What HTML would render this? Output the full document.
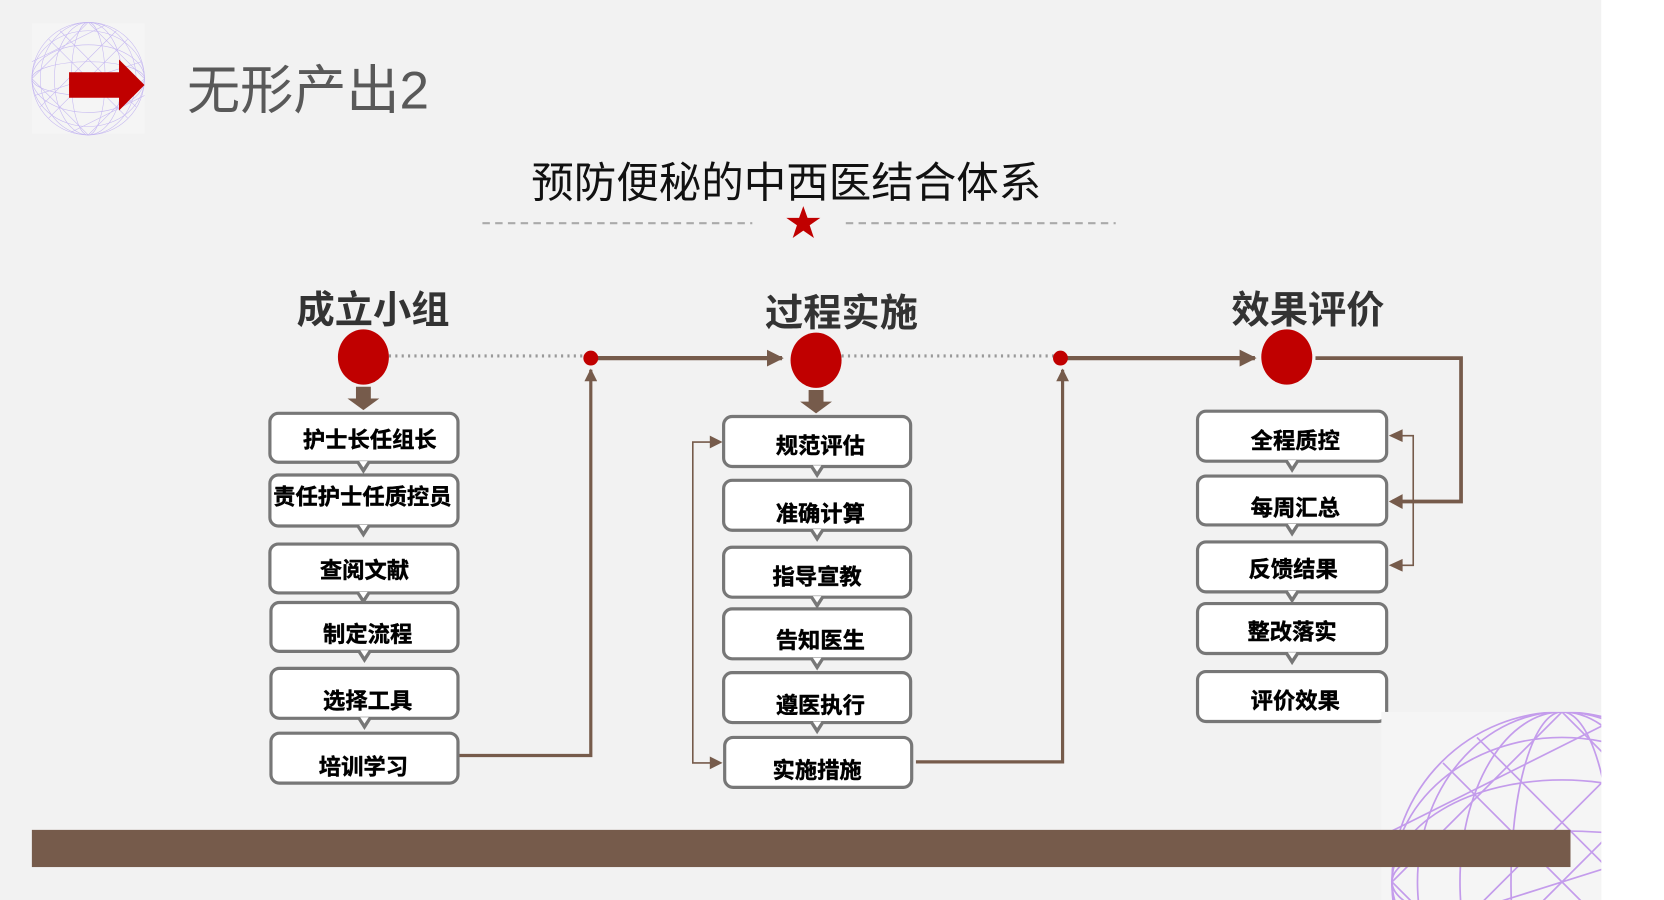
<!DOCTYPE html>
<html><head><meta charset="utf-8"><style>
html,body{margin:0;padding:0;background:#fff;overflow:hidden;width:1664px;height:900px;}
svg{display:block;}
text{font-family:"Liberation Sans","Noto Sans CJK SC","WenQuanYi Zen Hei",sans-serif;}
</style></head><body>
<svg width="1664" height="900" viewBox="0 0 1566 847" preserveAspectRatio="none" xmlns="http://www.w3.org/2000/svg">
<defs>
<marker id="ah" viewBox="0 0 10 10" refX="9" refY="5" markerWidth="4" markerHeight="4" orient="auto"><path d="M0,0L10,5L0,10z" fill="#765b4b"/></marker>
<g id="sph" fill="none" stroke-width="1">
<circle cx="0" cy="0" r="100"/>
<ellipse cx="0" cy="0" rx="30" ry="100"/><ellipse cx="0" cy="0" rx="60" ry="100"/><ellipse cx="0" cy="0" rx="85" ry="100"/>
<ellipse cx="0" cy="0" rx="100" ry="30"/><ellipse cx="0" cy="0" rx="100" ry="60"/><ellipse cx="0" cy="0" rx="100" ry="85"/>
<path d="M-100,0L0,-100L100,0L0,100Z M-70,-70L70,70 M70,-70L-70,70 M-100,-30L30,-95 M-95,30L95,-30 M-30,95L100,30 M-50,-85L85,50 M-85,50L50,-85"/>
</g>
</defs>
<rect x="0" y="0" width="1507" height="847" fill="#f2f2f2"/>
<rect x="1507" y="0" width="59" height="847" fill="#fff"/>
<rect x="30" y="22" width="106" height="104" fill="#f5f5f5"/>
<use href="#sph" transform="translate(83,74) scale(0.53)" stroke="#b9a8f0" opacity="0.8"/>
<polygon points="65,68 112,68 112,56 136,80 112,104 112,92 65,92" fill="#c00000"/>
<text x="176" y="102" font-size="50" fill="#595959">无形产出2</text>
<text x="740" y="186" font-size="40" fill="#111" text-anchor="middle">预防便秘的中西医结合体系</text>
<line x1="454" y1="210" x2="708" y2="210" stroke="#aaa" stroke-width="2" stroke-dasharray="7,5"/>
<line x1="796" y1="210" x2="1050" y2="210" stroke="#aaa" stroke-width="2" stroke-dasharray="7,5"/>
<polygon points="756,194 760,205 772,205 762,212 766,224 756,217 746,224 750,212 740,205 752,205" fill="#c00000"/>
<g font-size="36" font-weight="bold" fill="#333" text-anchor="middle">
<text x="351" y="304">成立小组</text><text x="792" y="307">过程实施</text><text x="1231" y="304">效果评价</text>
</g>
<line x1="366" y1="335" x2="550" y2="335" stroke="#999" stroke-width="3" stroke-dasharray="2,4"/>
<line x1="792" y1="335" x2="992" y2="335" stroke="#999" stroke-width="3" stroke-dasharray="2,4"/>
<line x1="562" y1="337" x2="736" y2="337" stroke="#765b4b" stroke-width="4" marker-end="url(#ah)"/>
<line x1="1004" y1="337" x2="1181" y2="337" stroke="#765b4b" stroke-width="4" marker-end="url(#ah)"/>
<ellipse cx="342" cy="336" rx="24" ry="26" fill="#c00000"/>
<ellipse cx="768" cy="339" rx="24" ry="26" fill="#c00000"/>
<ellipse cx="1211" cy="336" rx="24" ry="26" fill="#c00000"/>
<circle cx="556" cy="337" r="7" fill="#c00000"/>
<circle cx="998" cy="337" r="7" fill="#c00000"/>
<polygon points="335,364 349,364 349,375 357,375 342,386 327,375 335,375" fill="#765b4b"/>
<polygon points="761,367 775,367 775,378 783,378 768,389 753,378 761,378" fill="#765b4b"/>
<polyline points="431,711 556,711 556,348" fill="none" stroke="#765b4b" stroke-width="3" marker-end="url(#ah)"/>
<polyline points="862,717 1000,717 1000,348" fill="none" stroke="#765b4b" stroke-width="3" marker-end="url(#ah)"/>
<polyline points="678,416 652,416 652,718 678,718" fill="none" stroke="#765b4b" stroke-width="1.5"/>
<polygon points="680,416 668,410 668,422" fill="#765b4b"/><polygon points="680,718 668,712 668,724" fill="#765b4b"/>
<polyline points="1238,337 1375,337 1375,472 1310,472" fill="none" stroke="#765b4b" stroke-width="3.5"/>
<polygon points="1307,472 1320,465 1320,479" fill="#765b4b"/>
<polyline points="1318,410 1330,410 1330,532 1318,532" fill="none" stroke="#765b4b" stroke-width="1.5"/>
<polygon points="1307,410 1320,404 1320,416" fill="#765b4b"/><polygon points="1307,532 1320,526 1320,538" fill="#765b4b"/>
<g font-size="21" font-weight="bold" fill="#000" stroke="#000" stroke-width="0.4" text-anchor="middle" stroke-linejoin="round">
<g>
<rect x="254" y="389" width="177" height="46" rx="8" fill="#fff" stroke="#777" stroke-width="3"/><polygon points="335,435 349,435 342,446" fill="#777" stroke="none"/><polygon points="338,434 346,434 342,440" fill="#fff" stroke="none"/><text x="348" y="421">护士长任组长</text>
<rect x="254" y="447" width="177" height="48" rx="8" fill="#fff" stroke="#777" stroke-width="3"/><polygon points="335,495 349,495 342,506" fill="#777" stroke="none"/><polygon points="338,494 346,494 342,500" fill="#fff" stroke="none"/><text x="341" y="475">责任护士任质控员</text>
<rect x="254" y="512" width="177" height="46" rx="8" fill="#fff" stroke="#777" stroke-width="3"/><polygon points="335,558 349,558 342,569" fill="#777" stroke="none"/><polygon points="338,557 346,557 342,563" fill="#fff" stroke="none"/><text x="343" y="544">查阅文献</text>
<rect x="255" y="567" width="176" height="46" rx="8" fill="#fff" stroke="#777" stroke-width="3"/><polygon points="336,613 350,613 343,624" fill="#777" stroke="none"/><polygon points="339,612 347,612 343,618" fill="#fff" stroke="none"/><text x="346" y="604">制定流程</text>
<rect x="255" y="629" width="176" height="47" rx="8" fill="#fff" stroke="#777" stroke-width="3"/><polygon points="336,676 350,676 343,687" fill="#777" stroke="none"/><polygon points="339,675 347,675 343,681" fill="#fff" stroke="none"/><text x="346" y="667">选择工具</text>
<rect x="255" y="690" width="176" height="47" rx="8" fill="#fff" stroke="#777" stroke-width="3"/><text x="342" y="729">培训学习</text>
</g>
<g>
<rect x="681" y="392" width="176" height="47" rx="8" fill="#fff" stroke="#777" stroke-width="3"/><polygon points="762,439 776,439 769,450" fill="#777" stroke="none"/><polygon points="765,438 773,438 769,444" fill="#fff" stroke="none"/><text x="772" y="427">规范评估</text>
<rect x="681" y="452" width="176" height="47" rx="8" fill="#fff" stroke="#777" stroke-width="3"/><polygon points="762,499 776,499 769,510" fill="#777" stroke="none"/><polygon points="765,498 773,498 769,504" fill="#fff" stroke="none"/><text x="772" y="491">准确计算</text>
<rect x="681" y="515" width="176" height="47" rx="8" fill="#fff" stroke="#777" stroke-width="3"/><polygon points="762,562 776,562 769,573" fill="#777" stroke="none"/><polygon points="765,561 773,561 769,567" fill="#fff" stroke="none"/><text x="769" y="550">指导宣教</text>
<rect x="681" y="573" width="176" height="47" rx="8" fill="#fff" stroke="#777" stroke-width="3"/><polygon points="762,620 776,620 769,631" fill="#777" stroke="none"/><polygon points="765,619 773,619 769,625" fill="#fff" stroke="none"/><text x="772" y="610">告知医生</text>
<rect x="681" y="633" width="176" height="47" rx="8" fill="#fff" stroke="#777" stroke-width="3"/><polygon points="762,680 776,680 769,691" fill="#777" stroke="none"/><polygon points="765,679 773,679 769,685" fill="#fff" stroke="none"/><text x="772" y="671">遵医执行</text>
<rect x="682" y="694" width="176" height="47" rx="8" fill="#fff" stroke="#777" stroke-width="3"/><text x="769" y="732">实施措施</text>
</g>
<g>
<rect x="1127" y="387" width="178" height="47" rx="8" fill="#fff" stroke="#777" stroke-width="3"/><polygon points="1209,434 1223,434 1216,445" fill="#777" stroke="none"/><polygon points="1212,433 1220,433 1216,439" fill="#fff" stroke="none"/><text x="1219" y="422">全程质控</text>
<rect x="1127" y="448" width="178" height="46" rx="8" fill="#fff" stroke="#777" stroke-width="3"/><polygon points="1209,494 1223,494 1216,505" fill="#777" stroke="none"/><polygon points="1212,493 1220,493 1216,499" fill="#fff" stroke="none"/><text x="1219" y="485">每周汇总</text>
<rect x="1127" y="510" width="178" height="47" rx="8" fill="#fff" stroke="#777" stroke-width="3"/><polygon points="1209,557 1223,557 1216,568" fill="#777" stroke="none"/><polygon points="1212,556 1220,556 1216,562" fill="#fff" stroke="none"/><text x="1217" y="543">反馈结果</text>
<rect x="1127" y="568" width="178" height="47" rx="8" fill="#fff" stroke="#777" stroke-width="3"/><polygon points="1209,615 1223,615 1216,626" fill="#777" stroke="none"/><polygon points="1212,614 1220,614 1216,620" fill="#fff" stroke="none"/><text x="1216" y="602">整改落实</text>
<rect x="1127" y="632" width="178" height="47" rx="8" fill="#fff" stroke="#777" stroke-width="3"/><text x="1219" y="667">评价效果</text>
</g>
</g>
<rect x="1300" y="670" width="207" height="177" fill="#f5f5f5"/>
<svg x="1300" y="670" width="207" height="177" viewBox="1300 670 207 177">
<use href="#sph" transform="translate(1470,830) scale(1.6)" stroke="#b37ee8" opacity="0.75"/>
</svg>
<rect x="30" y="781" width="1448" height="35" fill="#765b4b"/>
</svg>
</body></html>
